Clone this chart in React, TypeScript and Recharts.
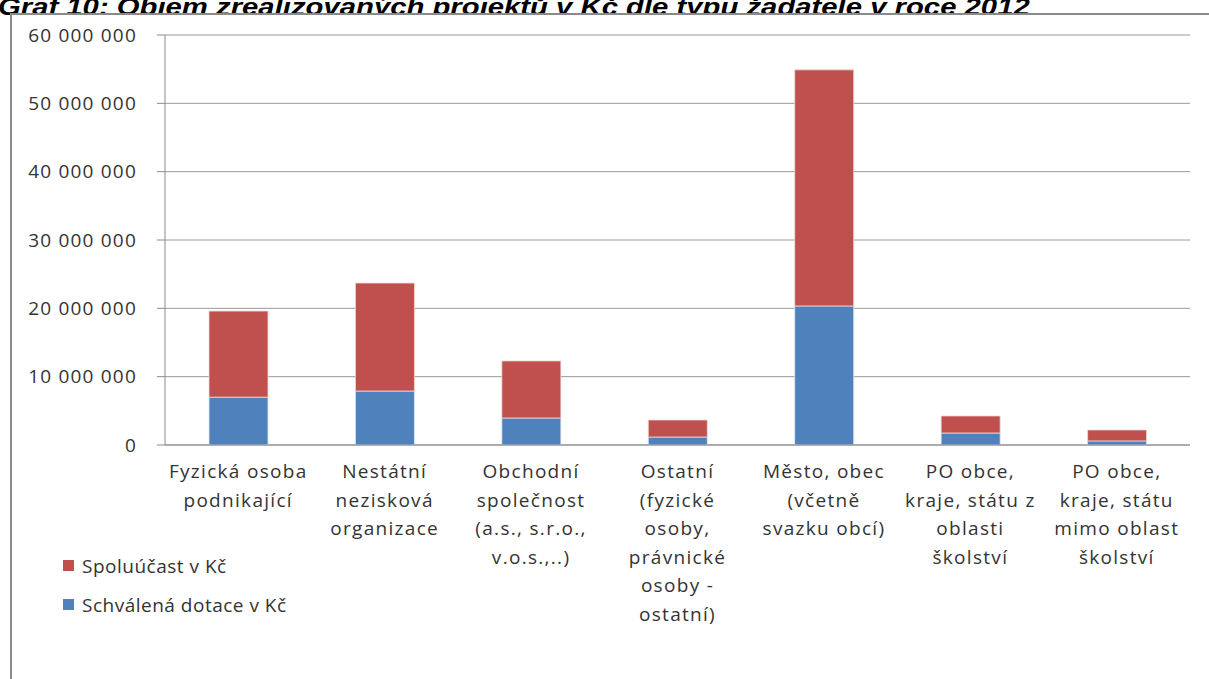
import { BarChart, Bar, XAxis, YAxis, CartesianGrid } from 'recharts'

const categories = [
  ['Fyzická osoba', 'podnikající'],
  ['Nestátní', 'nezisková', 'organizace'],
  ['Obchodní', 'společnost', '(a.s., s.r.o.,', 'v.o.s.,..)'],
  ['Ostatní', '(fyzické', 'osoby,', 'právnické', 'osoby -', 'ostatní)'],
  ['Město, obec', '(včetně', 'svazku obcí)'],
  ['PO obce,', 'kraje, státu z', 'oblasti', 'školství'],
  ['PO obce,', 'kraje, státu', 'mimo oblast', 'školství'],
]

const dotace = [7000000, 7900000, 3950000, 1170000, 20350000, 1760000, 600000]
const spoluucast = [12600000, 15800000, 8350000, 2490000, 34550000, 2490000, 1600000]

const yTicks = [0, 10000000, 20000000, 30000000, 40000000, 50000000, 60000000]

const BLUE = '#4F81BD'
const RED = '#C0504D'
const FONT = '"Open Sans", sans-serif'

const data = categories.map((lines, i) => ({
  name: String(i),
  dotace: dotace[i],
  spoluucast: spoluucast[i],
}))

const formatNum = (v: number) => String(v).replace(/\B(?=(\d{3})+(?!\d))/g, ' ')

const CategoryTick = ({ x, y, payload }: any) => {
  const lines = categories[Number(payload.value)] || []
  return (
    <text x={x} y={y} textAnchor="middle" fill="#333" fontSize={19} letterSpacing={1.3} fontFamily={FONT}>
      {lines.map((line, i) => (
        <tspan key={i} x={x} dy={i === 0 ? 25 : 28.5}>
          {line}
        </tspan>
      ))}
    </text>
  )
}

const legendItems = [
  { label: 'Spoluúčast v Kč', color: RED },
  { label: 'Schválená dotace v Kč', color: BLUE },
]

export default function App() {
  return (
    <div style={{ position: 'absolute', left: 0, top: 0, width: 1209, height: 679, overflow: 'hidden', background: '#fff' }}>
      <div
        style={{
          position: 'absolute',
          left: -2,
          top: -7,
          fontFamily: '"Liberation Sans", Arial, sans-serif',
          fontWeight: 'bold',
          fontStyle: 'italic',
          fontSize: 24,
          color: '#000',
          whiteSpace: 'nowrap',
          transform: 'scaleX(1.22)',
          transformOrigin: 'left top',
        }}
      >
        Graf 10: Objem zrealizovaných projektů v Kč dle typu žadatele v roce 2012
      </div>
      <div
        style={{
          position: 'absolute',
          left: 10,
          top: 13,
          width: 1220,
          height: 700,
          borderLeft: '2px solid #8a8a8a',
          borderTop: '2px solid #8a8a8a',
          background: '#fff',
        }}
      />
      <div style={{ position: 'absolute', left: 0, top: 0 }}>
        <BarChart
          width={1209}
          height={679}
          data={data}
          margin={{ top: 35, right: 19, left: 0, bottom: 34 }}
          barSize={59}
        >
          <CartesianGrid vertical={false} stroke="#9a9a9a" strokeWidth={1} />
          <XAxis
            dataKey="name"
            height={200}
            interval={0}
            tick={<CategoryTick />}
            tickLine={false}
            axisLine={{ stroke: '#8a8a8a' }}
          />
          <YAxis
            width={165}
            domain={[0, 60000000]}
            ticks={yTicks}
            tickFormatter={formatNum}
            tickSize={8}
            tickMargin={20}
            axisLine={{ stroke: '#8a8a8a' }}
            tickLine={{ stroke: '#8a8a8a' }}
            tick={{ fill: '#333', fontSize: 19, fontFamily: FONT, letterSpacing: 1.2 }}
          />
          <Bar dataKey="dotace" stackId="a" fill={BLUE} stroke="#dde6f2" strokeWidth={0.8} isAnimationActive={false} />
          <Bar dataKey="spoluucast" stackId="a" fill={RED} stroke="#f0d8d7" strokeWidth={0.8} isAnimationActive={false} />
        </BarChart>
      </div>
      <div style={{ position: 'absolute', left: 63, top: 546, fontFamily: FONT, fontSize: 19, letterSpacing: 0.5, color: '#333' }}>
        {legendItems.map((it) => (
          <div key={it.label} style={{ display: 'flex', alignItems: 'center', height: 39, whiteSpace: 'nowrap' }}>
            <span style={{ width: 11, height: 11, background: it.color, marginRight: 8, display: 'inline-block' }} />
            {it.label}
          </div>
        ))}
      </div>
    </div>
  )
}
